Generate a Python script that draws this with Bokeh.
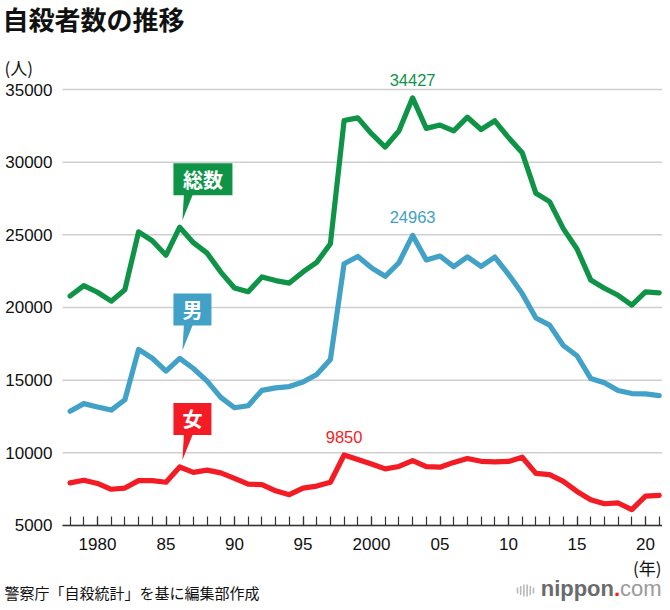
from bokeh.plotting import figure
from bokeh.models import FixedTicker
from bokeh.embed import file_html
from bokeh.resources import INLINE
from bokeh.core.properties import value

# ---------------- data ----------------
years = list(range(1978, 2022))
total = [20788, 21503, 21048, 20434, 21228, 25202, 24596, 23599, 25524, 24460,
         23742, 22436, 21346, 21084, 22104, 21851, 21679, 22445, 23104, 24391,
         32863, 33048, 31957, 31042, 32143, 34427, 32325, 32552, 32155, 33093,
         32249, 32845, 31690, 30651, 27858, 27283, 25427, 24025, 21897, 21321,
         20840, 20169, 21081, 21007]
male = [12859, 13386, 13155, 12942, 13654, 17116, 16508, 15624, 16497, 15802,
        14934, 13818, 13102, 13242, 14296, 14468, 14560, 14874, 15393, 16416,
        23013, 23512, 22727, 22144, 23080, 24963, 23272, 23540, 22813, 23478,
        22831, 23472, 22283, 20955, 19273, 18787, 17386, 16681, 15121, 14826,
        14290, 14078, 14055, 13939]
female = [7929, 8117, 7893, 7492, 7574, 8086, 8088, 7975, 9027, 8658,
          8808, 8618, 8244, 7842, 7808, 7383, 7119, 7571, 7711, 7975,
          9850, 9536, 9230, 8898, 9063, 9464, 9053, 9012, 9342, 9615,
          9418, 9373, 9407, 9696, 8585, 8496, 8041, 7344, 6776, 6495,
          6550, 6091, 7026, 7068]
series_names = ["総数", "男", "女"]
x_tick_years = [1980, 1985, 1990, 1995, 2000, 2005, 2010, 2015, 2020]
x_tick_labels = ["1980", "85", "90", "95", "2000", "05", "10", "15", "20"]
y_ticks = [5000, 10000, 15000, 20000, 25000, 30000, 35000]
callout_year = 1986
title_text = "自殺者数の推移"
y_unit = "(人)"
x_unit = "(年)"
source_text = "警察庁「自殺統計」を基に編集部作成"

# ---------------- layout (whole canvas is the frame) ----------------
W, H = 662, 602
SX = 13.7            # px per year
SY = 14.533 / 1000   # px per person
X0 = years[0] - 69.6 / SX
X1 = X0 + W / SX
Y1 = y_ticks[-1] + 89 / SY
Y0 = Y1 - H / SY
PX = 1 / SX
PY = 1 / SY


def fx(px):
    return X0 + px / SX


def fy(py):
    return Y1 - py / SY


AXIS_LEFT = fx(62)

GREEN = "#0f9447"
BLUE = "#41a1c6"
RED = "#f41c24"
JP = "Noto Sans CJK JP"
LAT = "Liberation Sans"

p = figure(width=W, height=H, x_range=(X0, X1), y_range=(Y0, Y1),
           output_backend="svg", toolbar_location=None, min_border=0,
           background_fill_color="white", border_fill_color="white")
p.outline_line_color = None
p.xgrid.visible = False
p.ygrid.visible = False

# x axis placed on the 5000 line
p.xaxis.fixed_location = y_ticks[0]
p.xaxis.bounds = (AXIS_LEFT, X1)
p.xaxis.ticker = FixedTicker(ticks=x_tick_years, minor_ticks=years)
p.xaxis.major_label_overrides = {y: l for y, l in zip(x_tick_years, x_tick_labels)}
p.xaxis.major_tick_in = 9
p.xaxis.major_tick_out = 0
p.xaxis.minor_tick_in = 9
p.xaxis.minor_tick_out = 0
p.xaxis.axis_line_color = "#333333"
p.xaxis.axis_line_width = 1.6
p.xaxis.major_tick_line_color = "#333333"
p.xaxis.minor_tick_line_color = "#333333"
p.xaxis.major_tick_line_width = 1.2
p.xaxis.minor_tick_line_width = 1.2
p.xaxis.major_label_standoff = 13
p.xaxis.major_label_text_font = LAT
p.xaxis.major_label_text_font_size = "17px"
p.xaxis.major_label_text_color = "#111111"

# y axis placed at the left edge of the plotting area
p.yaxis.fixed_location = AXIS_LEFT
p.yaxis.ticker = FixedTicker(ticks=y_ticks)
p.yaxis.axis_line_color = None
p.yaxis.major_tick_line_color = None
p.yaxis.minor_tick_line_color = None
p.yaxis.major_tick_in = 0
p.yaxis.major_tick_out = 0
p.yaxis.major_label_standoff = 10
p.yaxis.major_label_text_font = LAT
p.yaxis.major_label_text_font_size = "17px"
p.yaxis.major_label_text_color = "#111111"

# horizontal grid lines starting at the axis
p.segment(x0=[AXIS_LEFT] * len(y_ticks), x1=[X1] * len(y_ticks),
          y0=y_ticks, y1=y_ticks, line_color="#cfcfcf", line_width=1.5)

for vals, col in [(total, GREEN), (male, BLUE), (female, RED)]:
    p.line(years, vals, line_color=col, line_width=5.2, line_join="round", line_cap="round")

for vals, col in [(total, GREEN), (male, BLUE), (female, RED)]:
    i = vals.index(max(vals))
    p.text([years[i]], [vals[i]], text=[str(vals[i])], text_color=col,
           text_font=value(LAT), text_font_size="16.5px",
           text_align="center", text_baseline="middle", y_offset=-18)

ci = years.index(callout_year)
for name, vals, col, lift, bw in [(series_names[0], total, GREEN, 7, 59),
                                  (series_names[1], male, BLUE, 8, 38),
                                  (series_names[2], female, RED, 7, 38)]:
    tx = years[ci] + 0.2
    ty = vals[ci] + lift * PY
    bottom = ty + 25 * PY
    top = bottom + 32 * PY
    left = tx - 9 * PX
    right = left + bw * PX
    p.quad(left=[left], right=[right], bottom=[bottom], top=[top],
           fill_color=col, line_color=None)
    p.patch([tx + 1.5 * PX, tx + 10.5 * PX, tx], [bottom + PY, bottom + PY, ty],
            fill_color=col, line_color=None)
    p.text([(left + right) / 2], [(top + bottom) / 2], text=[name],
           text_color="white", text_font=value(JP), text_font_style="bold",
           text_font_size="20px", text_align="center", text_baseline="middle")


def txt(s, px, py, size, color="#111111", font=JP, style="normal", align="left",
        baseline="middle"):
    p.text([fx(px)], [fy(py)], text=[s], text_font=value(font), text_font_size=size,
           text_font_style=style, text_color=color, text_align=align,
           text_baseline=baseline)


txt(title_text, 2, 18, "26px", style="bold")
txt(y_unit, 4, 67, "17px")
txt(x_unit, 661, 567, "17px", align="right")
txt(source_text, 4, 592, "15px")
txt("com", 661, 588, "22px", color="#9a9a9a", font=LAT, align="right")
txt(".", 619.5, 588, "22px", color=RED, font=LAT, style="bold", align="right")
txt("nippon", 613.5, 588, "22px", color="#6b6b6b", font=LAT, style="bold", align="right")

bar_px = [517, 520.2, 523.4, 526.6, 529.8, 533]
bar_h = [6, 9, 12, 12, 9, 6]
p.segment(x0=[fx(b) for b in bar_px], x1=[fx(b) for b in bar_px],
          y0=[fy(590 - h / 2) for h in bar_h], y1=[fy(590 + h / 2) for h in bar_h],
          line_color="#b8b8b8", line_width=1.6)

open("out.html", "w").write(file_html(p, INLINE))
